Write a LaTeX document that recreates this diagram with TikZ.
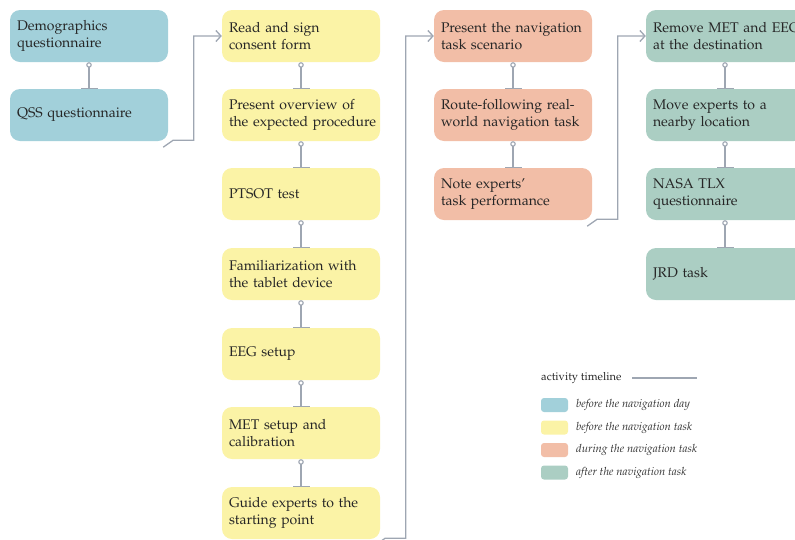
\documentclass[tikz,border=0pt]{standalone}
\usepackage[T1]{fontenc}
\usepackage{mathpazo}
\usetikzlibrary{arrows.meta,calc}
\definecolor{dayblue}{HTML}{A2D0DA}
\definecolor{preyellow}{HTML}{FBF3A6}
\definecolor{navsalmon}{HTML}{F2BEA7}
\definecolor{postgreen}{HTML}{ABCEC3}
\definecolor{timegray}{HTML}{9EA6B2}

\begin{document}
\begin{tikzpicture}[x=1pt,y=1pt,
  stage/.style={fill=#1, rounded corners=10pt, minimum width=158pt, minimum height=52pt,
    text width=156pt, inner xsep=1pt, align=left, text=black!85,
    font=\fontsize{14}{17}\selectfont, execute at begin node={\leftskip=6pt\relax}},
  link/.style={draw=timegray, line width=1.3pt,
    {Circle[open,length=5.5pt,width=5.5pt,line width=1.1pt]}-{Bar[width=17pt]}},
  jump/.style={draw=timegray, line width=1.3pt,
    -{Straight Barb[length=5pt,width=11pt,line width=1.3pt]}},
  swatch/.style={fill=#1, rounded corners=3pt, minimum width=27pt, minimum height=14pt, inner sep=0pt},
  key/.style={font=\fontsize{11.3}{13}\selectfont\itshape, anchor=west, inner sep=0pt, text=black!80}]
\useasboundingbox (0,0) rectangle (795,-539);

%% before the navigation day
\node[stage=dayblue] (demo) at (89,-36) {Demographics\\questionnaire};
\node[stage=dayblue] (qss) at (89,-115) {QSS questionnaire};

%% before the navigation task
\node[stage=preyellow] (read) at (301,-36) {Read and sign\\consent form};
\node[stage=preyellow] (overview) at (301,-115) {Present overview of\\the expected procedure};
\node[stage=preyellow] (ptsot) at (301,-194) {PTSOT test};
\node[stage=preyellow] (tablet) at (301,-274) {Familiarization with\\the tablet device};
\node[stage=preyellow] (eeg) at (301,-354) {EEG setup};
\node[stage=preyellow] (met) at (301,-433) {MET setup and\\calibration};
\node[stage=preyellow] (guide) at (301,-513) {Guide experts to the\\starting point};

%% during the navigation task
\node[stage=navsalmon] (scenario) at (513,-36) {Present the navigation\\task scenario};
\node[stage=navsalmon] (route) at (513,-115) {Route-following real-\\world navigation task};
\node[stage=navsalmon] (note) at (513,-194) {Note experts'\\task performance};

%% after the navigation task
\node[stage=postgreen] (remove) at (725,-36) {\mbox{Remove MET and EEG}\\at the destination};
\node[stage=postgreen] (move) at (725,-115) {Move experts to a\\nearby location};
\node[stage=postgreen] (nasa) at (725,-194) {NASA TLX\\questionnaire};
\node[stage=postgreen] (jrd) at (725,-274) {JRD task};

%% timeline within a column
\draw[link] (demo.south) -- (qss.north);
\draw[link] (read.south) -- (overview.north);
\draw[link] (overview.south) -- (ptsot.north);
\draw[link] (ptsot.south) -- (tablet.north);
\draw[link] (tablet.south) -- (eeg.north);
\draw[link] (eeg.south) -- (met.north);
\draw[link] (met.south) -- (guide.north);
\draw[link] (scenario.south) -- (route.north);
\draw[link] (route.south) -- (note.north);
\draw[link] (remove.south) -- (move.north);
\draw[link] (move.south) -- (nasa.north);
\draw[link] (nasa.south) -- (jrd.north);

%% timeline from one column to the next
\coordinate (t1) at ($(qss.south east)+(-5,-6)$);
\coordinate (h1) at ($(qss.south east)+(5,1)$);
\draw[jump] (t1) -- (h1) -| ($(read.west)+(-28,0)$) -- (read.west);
\coordinate (t2) at ($(guide.south east)+(-5,-6)$);
\coordinate (h2) at ($(guide.south east)+(5,1)$);
\draw[jump] (t2) -- (h2) -| ($(scenario.west)+(-28,0)$) -- (scenario.west);
\coordinate (t3) at ($(note.south east)+(-5,-6)$);
\coordinate (h3) at ($(note.south east)+(5,1)$);
\draw[jump] (t3) -- (h3) -| ($(remove.west)+(-28,0)$) -- (remove.west);

%% legend
\node[anchor=west, inner sep=0pt, font=\fontsize{11.2}{13}\selectfont, text=black!85] (act) at (541,-378) {activity timeline};
\coordinate (act-a) at (632,-378);
\coordinate (act-b) at (697,-378);
\draw[timegray, line width=1.3pt] (act-a) -- (act-b);
\node[swatch=dayblue] (k1) at (554.5,-405) {};
\node[key] at (576,-405) {before the navigation day};
\node[swatch=preyellow] (k2) at (554.5,-427.5) {};
\node[key] at (576,-427.5) {before the navigation task};
\node[swatch=navsalmon] (k3) at (554.5,-450) {};
\node[key] at (576,-450) {during the navigation task};
\node[swatch=postgreen] (k4) at (554.5,-472.5) {};
\node[key] at (576,-472.5) {after the navigation task};
\end{tikzpicture}
\end{document}
